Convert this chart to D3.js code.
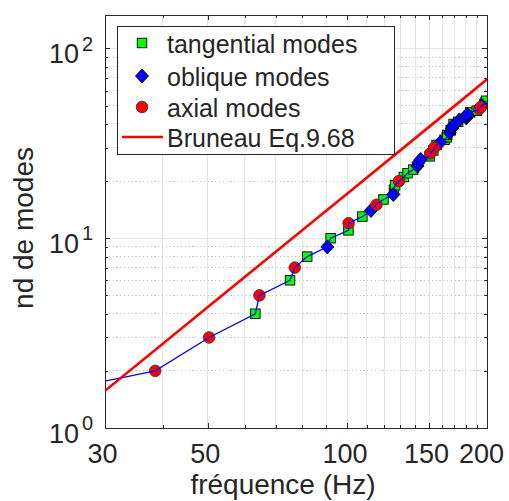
<!DOCTYPE html>
<html lang="fr">
<head>
<meta charset="utf-8">
<title>nd de modes</title>
<script src="https://d3js.org/d3.v7.min.js"></script>
<style>
  body { margin: 0; background: #fff; }
  text { font-family: "Liberation Sans", Arial, Helvetica, sans-serif; fill: #262626; }
  .axis path, .axis line { stroke: #262626; shape-rendering: crispEdges; }
</style>
</head>
<body>
<script>
// mode frequencies (Hz) and cumulative mode count
var tangF = [63.3, 75.2, 81.9, 92.0, 100.5, 107.7, 119.6, 126.0, 126.7, 132.3, 134.8, 138.7, 150.4,
             153.2, 155.7, 162.0, 163.8, 164.2, 167.0, 169.4, 173.3, 184.0, 190.0, 197.6, 198.7, 199.0];
var tangN = [4, 6, 8, 10, 11, 13, 16, 18, 19, 21, 22, 23, 27, 29, 31, 33, 34, 35, 37, 40, 41, 46, 47, 51, 52, 53];

var oblF = [90.5, 112.4, 125.6, 141.6, 142.2, 143.9, 158.6, 166.2, 168.2, 168.6, 174.4, 180.5, 181.0, 181.3, 195.0];
var oblN = [9, 14, 17, 24, 25, 26, 32, 36, 38, 39, 42, 43, 44, 45, 50];

var axF = [38.5, 50.3, 64.6, 77.0, 100.6, 115.5, 129.2, 150.9, 154.0, 192.5, 193.8];
var axN = [2, 3, 5, 7, 12, 15, 20, 28, 30, 48, 49];

// first point of the blue curve lies left of the axes
var startF = 9.6, startN = 1;

// Bruneau Eq.9.68 curve
var brF = [30, 50, 100, 150, 200];
var brN = [1.57, 4.34, 17.2, 38.6, 68.7];

var xTicks = [30, 50, 100, 150, 200];
var xMinor = [40, 60, 70, 80, 90, 110, 120, 130, 140, 160, 170, 180, 190];
var yTicks = [1, 10, 100];
var yMinor = [2, 3, 4, 5, 6, 7, 8, 9, 20, 30, 40, 50, 60, 70, 80, 90];

var legendLabels = ["tangential modes", "oblique modes", "axial modes", "Bruneau Eq.9.68"];

var W = 509, H = 501;
var L = 105, R = 487, T = 15, B = 428;

var svg = d3.select("body").append("svg").attr("width", W).attr("height", H);

var x = d3.scaleLog().domain([30, 200]).range([L, R]);
var y = d3.scaleLog().domain([1, 150]).range([B, T]);

// grid
var grid = svg.append("g");
grid.selectAll(".vg").data(xTicks.concat(xMinor)).enter().append("line")
  .attr("x1", d => x(d)).attr("x2", d => x(d)).attr("y1", T).attr("y2", B)
  .attr("stroke", "#e4e4e4").attr("stroke-width", 1).attr("shape-rendering", "crispEdges");
grid.selectAll(".hg").data(yTicks).enter().append("line")
  .attr("x1", L).attr("x2", R).attr("y1", d => y(d)).attr("y2", d => y(d))
  .attr("stroke", "#e4e4e4").attr("stroke-width", 1).attr("shape-rendering", "crispEdges");
grid.selectAll(".hm").data(yMinor).enter().append("line")
  .attr("x1", L).attr("x2", R).attr("y1", d => y(d)).attr("y2", d => y(d))
  .attr("stroke", "#c4c4c4").attr("stroke-width", 1).attr("stroke-dasharray", "1.2,2.6")
  .attr("shape-rendering", "crispEdges");

// axes (ticks pointing inward)
function axisSet(axisFn, scale, major, minor, transform) {
  var g = svg.append("g").attr("class", "axis").attr("transform", transform);
  g.call(axisFn(scale).tickValues(major).tickSizeInner(-5).tickSizeOuter(0).tickFormat(""));
  var gm = svg.append("g").attr("class", "axis").attr("transform", transform);
  gm.call(axisFn(scale).tickValues(minor).tickSizeInner(-3).tickSizeOuter(0).tickFormat(""));
  return g;
}
var xb = axisSet(d3.axisBottom, x, xTicks, xMinor, "translate(0," + B + ")");
axisSet(d3.axisTop, x, xTicks, xMinor, "translate(0," + T + ")");
var yl = axisSet(d3.axisLeft, y, yTicks, yMinor, "translate(" + L + ",0)");
axisSet(d3.axisRight, y, yTicks, yMinor, "translate(" + R + ",0)");

// box edges
svg.append("rect").attr("x", L).attr("y", T).attr("width", R - L).attr("height", B - T)
  .attr("fill", "none").attr("stroke", "#262626").attr("stroke-width", 1)
  .attr("shape-rendering", "crispEdges");

// x tick labels
xb.selectAll(".tick").append("text")
  .attr("x", d => d === 200 ? -6 : -3).attr("y", 35).attr("text-anchor", "middle")
  .style("font-size", "27px").style("fill", "#262626")
  .text(d => d);

// y tick labels: 10^k
yl.selectAll(".tick").each(function(d) {
  var t = d3.select(this);
  t.append("text").attr("x", -26).attr("y", 14.5).attr("text-anchor", "end")
    .style("font-size", "27px").style("fill", "#262626").text("10");
  t.append("text").attr("x", -23).attr("y", 1.7).attr("text-anchor", "start")
    .style("font-size", "20px").style("fill", "#262626").text(Math.round(Math.log10(d)));
});

// axis labels
svg.append("text").attr("x", 283).attr("y", 494).attr("text-anchor", "middle")
  .style("font-size", "28px").text("fréquence (Hz)");
svg.append("text").attr("transform", "translate(33,228) rotate(-90)").attr("text-anchor", "middle")
  .style("font-size", "28px").text("nd de modes");

// plot content, clipped to the axes
svg.append("clipPath").attr("id", "clip").append("rect")
  .attr("x", L).attr("y", T).attr("width", R - L).attr("height", B - T);
var plot = svg.append("g").attr("clip-path", "url(#clip)");

function pts(F, N) { return F.map((f, i) => ({f: f, n: N[i]})); }
var tang = pts(tangF, tangN), obl = pts(oblF, oblN), ax = pts(axF, axN);

var sq = 9.5, rc = 5.8, dw = 6.5, dh = 7;
function drawSquare(g, data) {
  g.selectAll(null).data(data).enter().append("rect")
    .attr("x", d => x(d.f) - sq / 2).attr("y", d => y(d.n) - sq / 2)
    .attr("width", sq).attr("height", sq)
    .attr("fill", "#00ff00").attr("stroke", "#000").attr("stroke-width", 0.9);
}
function diamondPath(cx, cy) {
  return "M" + cx + "," + (cy - dh) + "L" + (cx + dw) + "," + cy + "L" + cx + "," + (cy + dh) +
         "L" + (cx - dw) + "," + cy + "Z";
}
function drawDiamond(g, data) {
  g.selectAll(null).data(data).enter().append("path")
    .attr("d", d => diamondPath(x(d.f), y(d.n)))
    .attr("fill", "#0000ff").attr("stroke", "#000").attr("stroke-width", 0.9);
}
function drawCircle(g, data) {
  g.selectAll(null).data(data).enter().append("circle")
    .attr("cx", d => x(d.f)).attr("cy", d => y(d.n)).attr("r", rc)
    .attr("fill", "#ff0000").attr("stroke", "#3a3a3a").attr("stroke-width", 0.9);
}

drawSquare(plot, tang);
drawDiamond(plot, obl);
drawCircle(plot, ax);

// blue cumulative curve through all modes in frequency order
var all = [{f: startF, n: startN}].concat(tang, obl, ax).sort((a, b) => a.f - b.f);
var line = d3.line().x(d => x(d.f)).y(d => y(d.n));
plot.append("path").datum(all).attr("d", line)
  .attr("fill", "none").attr("stroke", "#0000ff").attr("stroke-width", 1.3);

// Bruneau curve
plot.append("path").datum(pts(brF, brN)).attr("d", line)
  .attr("fill", "none").attr("stroke", "#ff0000").attr("stroke-width", 2.6);

// legend
var lg = svg.append("g");
lg.append("rect").attr("x", 117).attr("y", 26).attr("width", 277).attr("height", 128)
  .attr("fill", "#fff").attr("stroke", "#262626").attr("stroke-width", 1)
  .attr("shape-rendering", "crispEdges");
var rowY = [43, 76, 107, 137];
drawSquare(lg, [{f: x.invert(142), n: y.invert(rowY[0])}]);
drawDiamond(lg, [{f: x.invert(142), n: y.invert(rowY[1])}]);
drawCircle(lg, [{f: x.invert(142), n: y.invert(rowY[2])}]);
lg.append("line").attr("x1", 122).attr("x2", 163).attr("y1", rowY[3]).attr("y2", rowY[3])
  .attr("stroke", "#ff0000").attr("stroke-width", 2.6);
lg.selectAll(".lt").data(legendLabels).enter().append("text")
  .attr("x", 167).attr("y", (d, i) => rowY[i] + 9.5)
  .style("font-size", "25px").text(d => d);
</script>
</body>
</html>
